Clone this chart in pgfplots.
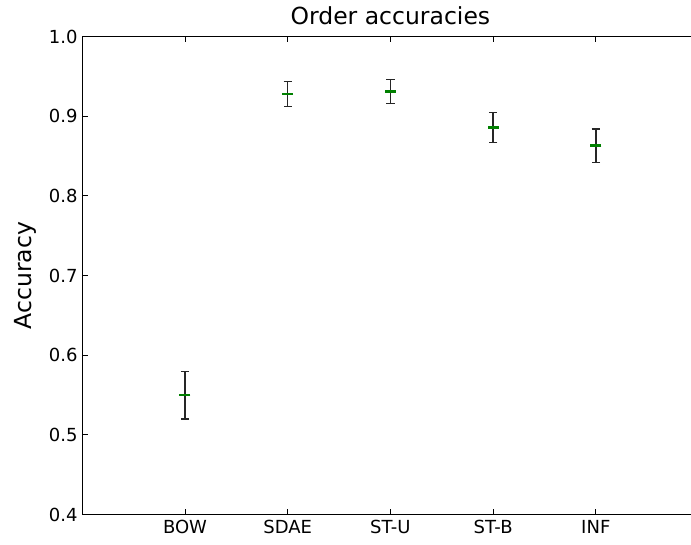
\documentclass[border=0pt]{standalone}
\usepackage{fontspec}
\setmainfont{DejaVu Sans}
\usepackage{pgfplots}
\pgfplotsset{compat=1.18}
\usepackage{pgfplotstable}

\pgfplotstableread{
x y e
1 0.550 0.030
2 0.928 0.016
3 0.931 0.015
4 0.886 0.019
5 0.863 0.021
}\orderacc

\definecolor{mplgreen}{RGB}{0,128,0}

\begin{document}
\begin{tikzpicture}
\useasboundingbox (-82.3pt,-29.4pt) rectangle (608.7pt,514.6pt);
\clip (-82.3pt,-29.4pt) rectangle (608.7pt,514.6pt);
\begin{axis}[
  scale only axis,
  width=616.2pt, height=478pt,
  xmin=0, xmax=6,
  ymin=0.4, ymax=1.0,
  xtick={1,2,3,4,5},
  xticklabels={BOW,SDAE,ST-U,ST-B,INF},
  ytick={0.4,0.5,0.6,0.7,0.8,0.9,1.0},
  /pgf/number format/assume math mode=true,
  yticklabel style={/pgf/number format/fixed, /pgf/number format/fixed zerofill, /pgf/number format/precision=1},
  tick label style={font=\fontsize{18}{20}\selectfont},
  xticklabel style={yshift=-2pt},
  yticklabel style={xshift=-1.3pt},
  tick align=inside,
  tick pos=both,
  major tick length=5.5pt,
  every tick/.style={black, line width=0.9pt},
  axis line style={black, line width=1.1pt},
  title={Order accuracies},
  title style={font=\fontsize{23.5}{26}\selectfont, at={(axis description cs:0.5,1)}, anchor=base, yshift=6pt},
  ylabel={Accuracy},
  ylabel style={font=\fontsize{23.5}{26}\selectfont, at={(axis description cs:-0.0821,0.5)}, anchor=base},
]
\addplot[
  only marks,
  mark=-,
  mark size=5.5pt,
  mark options={draw=mplgreen, line width=2.6pt},
  error bars/.cd,
    y dir=both, y explicit,
    error bar style={black!85, line width=1.4pt},
    error mark options={black!85, line width=1.3pt, mark size=4.2pt, rotate=90},
] table[x=x, y=y, y error=e] {\orderacc};
\end{axis}
\end{tikzpicture}
\end{document}
